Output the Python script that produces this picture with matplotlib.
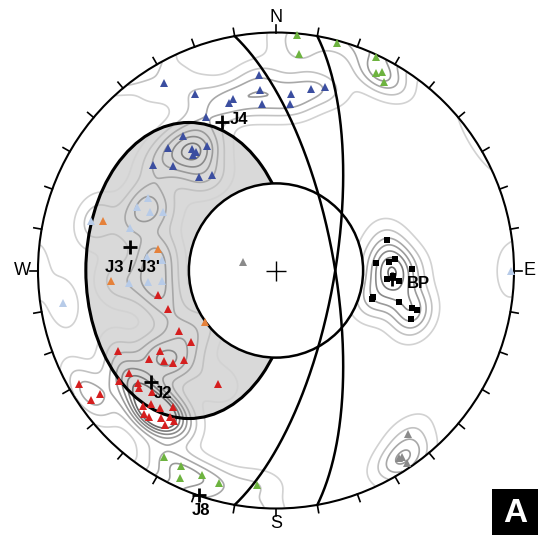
import numpy as np
import matplotlib
matplotlib.use("Agg")
import matplotlib.pyplot as plt
from matplotlib.patches import Circle, Ellipse, Rectangle

plt.rcParams['font.family'] = ['Liberation Sans', 'DejaVu Sans']

# ---- pole data, in equal-area net coordinates (unit primitive circle) ----
blue_x = [-0.471, -0.340, -0.197, -0.181, -0.294, -0.071, -0.067, -0.059, 0.063, 0.059, 0.147, 0.206,
          -0.391, -0.454, -0.353, -0.336, -0.349, -0.290, -0.517, -0.433, -0.324, -0.269]
blue_y = [0.788, 0.742, 0.704, 0.721, 0.645, 0.821, 0.758, 0.700, 0.742, 0.700, 0.763, 0.771,
          0.565, 0.515, 0.511, 0.498, 0.485, 0.523, 0.443, 0.439, 0.393, 0.401]

lightblue_x = [-0.538, -0.584, -0.529, -0.475, -0.613, -0.777, -0.479, -0.542, -0.618, -0.538, -0.479, -0.895, 0.987]
lightblue_y = [0.305, 0.267, 0.246, 0.246, 0.179, 0.208, 0.044, 0.057, -0.053, -0.048, -0.044, -0.137, -0.002]

orange_x = [-0.727, -0.496, -0.693, -0.298]
orange_y = [0.208, 0.090, -0.044, -0.216]

red_x = [-0.496, -0.454, -0.408, -0.357, -0.664, -0.487, -0.534, -0.471, -0.433, -0.387,
         -0.618, -0.660, -0.580, -0.576, -0.244, -0.828, -0.739, -0.777, -0.559, -0.525,
         -0.487, -0.433, -0.555, -0.534, -0.483, -0.445, -0.466, -0.429, -0.521]
red_y = [-0.103, -0.162, -0.254, -0.300, -0.338, -0.338, -0.372, -0.380, -0.389, -0.376,
         -0.431, -0.464, -0.473, -0.494, -0.477, -0.477, -0.519, -0.544, -0.569, -0.561,
         -0.578, -0.574, -0.603, -0.616, -0.620, -0.616, -0.649, -0.632, -0.511]

green_x = [-0.471, -0.399, -0.403, -0.311, -0.239, -0.080, 0.088, 0.097, 0.256, 0.420, 0.420, 0.445, 0.454]
green_y = [-0.784, -0.821, -0.872, -0.859, -0.893, -0.901, 0.989, 0.910, 0.956, 0.897, 0.830, 0.834, 0.792]

gray_x = [-0.139, 0.555, 0.517, 0.529, 0.550]
gray_y = [0.036, -0.687, -0.788, -0.784, -0.809]

bp_x = [0.466, 0.420, 0.475, 0.500, 0.571, 0.466, 0.517, 0.408, 0.403, 0.517, 0.571, 0.592, 0.567, 0.492]
bp_y = [0.128, 0.032, 0.036, 0.048, 0.006, -0.036, -0.044, -0.111, -0.120, -0.132, -0.158, -0.166, -0.204, -0.023]

# mean orientations of the joint sets
set_names = ["J4", "J3 / J3'", "J2", "J8", "BP"]
set_x = [-0.227, -0.613, -0.525, -0.324, 0.487]
set_y = [0.624, 0.099, -0.468, -0.943, -0.036]

# planes (dip direction, dip) and the vertical cone half-angle
plane_dipdir = [80, 100]
plane_dip = [70, 70]
cone_half_angle = 30

# shaded girdle region: centre, width, height (net coordinates)
girdle_center = (-0.366, 0.0)
girdle_width = 0.866
girdle_height = 1.244

compass = ["N", "E", "S", "W"]


def project(n, e, d):
    """Lower-hemisphere equal-area projection of direction cosines."""
    n, e, d = np.asarray(n), np.asarray(e), np.asarray(d)
    flip = d < 0
    n = np.where(flip, -n, n); e = np.where(flip, -e, e); d = np.where(flip, -d, d)
    phi = np.arccos(np.clip(d, -1, 1))
    trend = np.arctan2(e, n)
    r = np.sqrt(2) * np.sin(phi / 2)
    return r * np.sin(trend), r * np.cos(trend)


def unproject(x, y):
    r = np.hypot(x, y)
    phi = 2 * np.arcsin(np.clip(r / np.sqrt(2), 0, 1))
    trend = np.arctan2(x, y)
    return np.sin(phi) * np.cos(trend), np.sin(phi) * np.sin(trend), np.cos(phi)


def great_circle(dipdir, dip):
    dd = np.radians(dipdir); dp = np.radians(dip); s = dd - np.pi / 2
    t = np.linspace(0, np.pi, 400)
    n = np.cos(t) * np.cos(s) + np.sin(t) * np.cos(dp) * np.cos(dd)
    e = np.cos(t) * np.sin(s) + np.sin(t) * np.cos(dp) * np.sin(dd)
    d = np.sin(t) * np.sin(dp)
    return project(n, e, d)


fig = plt.figure(figsize=(5.38, 5.35), dpi=100)
ax = fig.add_axes([0, 0, 1, 1])
ax.set_xlim(-276 / 238, 262 / 238)
ax.set_ylim(-264.5 / 238, 270.5 / 238)
ax.axis('off')

# shaded girdle (fill below the contours, outline above them)
ax.add_patch(Ellipse(girdle_center, girdle_width, girdle_height, facecolor='#d9d9d9',
                     edgecolor='none', zorder=1))
ax.add_patch(Ellipse(girdle_center, girdle_width, girdle_height, facecolor='none',
                     edgecolor='black', lw=2.2, zorder=2.5))

# density contours of all poles
all_x = np.concatenate([blue_x, lightblue_x, orange_x, red_x, green_x, gray_x, bp_x])
all_y = np.concatenate([blue_y, lightblue_y, orange_y, red_y, green_y, gray_y, bp_y])
pn, pe, pd = unproject(all_x, all_y)
g = np.linspace(-1, 1, 401)
gx, gy = np.meshgrid(g, g)
inside = np.hypot(gx, gy) <= 0.999
qn, qe, qd = unproject(gx, gy)
k = 130.0
dens = np.zeros_like(gx)
for a, b, c in zip(pn, pe, pd):
    dot = np.abs(qn * a + qe * b + qd * c)
    dens += np.exp(k * (dot - 1))
dens = np.where(inside, dens, np.nan)
levels = [0.45, 1.2, 2.0, 2.8, 3.6, 4.4, 5.2]
colors = ['#d2d2d2', '#c2c2c2', '#a8a8a8', '#9a9a9a', '#8a8a8a', '#7a7a7a', '#6a6a6a']
ax.contour(gx, gy, dens, levels=levels, colors=colors, linewidths=1.2, zorder=2)

# vertical cone
r_cone = np.sqrt(2) * np.sin(np.radians(cone_half_angle) / 2)
ax.add_patch(Circle((0, 0), r_cone, facecolor='white', edgecolor='black', lw=1.8, zorder=3))

# primitive circle and 10-degree ticks
ax.add_patch(Circle((0, 0), 1.0, facecolor='none', edgecolor='black', lw=1.5, zorder=5))
for az in range(0, 360, 10):
    a = np.radians(az)
    ax.plot([np.sin(a), 1.033 * np.sin(a)], [np.cos(a), 1.033 * np.cos(a)], color='black', lw=1.2, zorder=5)
for lab, az in zip(compass, [0, 90, 180, 270]):
    a = np.radians(az)
    ax.text(1.066 * np.sin(a), 1.065 * np.cos(a), lab, ha='center', va='center', fontsize=13, zorder=6)

# planes
for ddir, dip in zip(plane_dipdir, plane_dip):
    x, y = great_circle(ddir, dip)
    ax.plot(x, y, color='black', lw=1.8, zorder=4)

# poles
ms = 5.5
ax.plot(blue_x, blue_y, '^', color='#3b4ea0', ms=ms, mew=0, zorder=6)
ax.plot(lightblue_x, lightblue_y, '^', color='#b7cbe8', ms=ms, mew=0, zorder=6)
ax.plot(orange_x, orange_y, '^', color='#e5813a', ms=ms, mew=0, zorder=6)
ax.plot(red_x, red_y, '^', color='#d51f1f', ms=ms, mew=0, zorder=6)
ax.plot(green_x, green_y, '^', color='#6db33f', ms=ms, mew=0, zorder=6)
ax.plot(gray_x, gray_y, '^', color='#8a8a8a', ms=ms, mew=0, zorder=6)
ax.plot(bp_x, bp_y, 's', color='black', ms=4, mew=0, zorder=6)

# centre cross
ax.plot([0], [0], '+', color='black', ms=15, mew=1.0, zorder=7)

# joint set means and labels
ax.plot(set_x, set_y, '+', color='black', ms=10, mew=2.0, zorder=8)
label_dx = [0.07, 0.01, 0.05, 0.01, 0.11]
label_dy = [0.01, -0.085, -0.05, -0.065, -0.02]
for name, x, y, dx, dy in zip(set_names, set_x, set_y, label_dx, label_dy):
    ax.text(x + dx, y + dy, name, ha='center', va='center', fontsize=12, fontweight='bold', zorder=9)

# panel letter
ax.add_patch(Rectangle((492 / 538, 0), 46 / 538, 46 / 535, transform=ax.transAxes,
                       facecolor='black', edgecolor='none', zorder=10, clip_on=False))
ax.text(515 / 538, 22 / 535, 'A', transform=ax.transAxes, color='white', fontsize=24,
        fontweight='bold', ha='center', va='center', zorder=11)

fig.savefig('out.png', dpi=100)
